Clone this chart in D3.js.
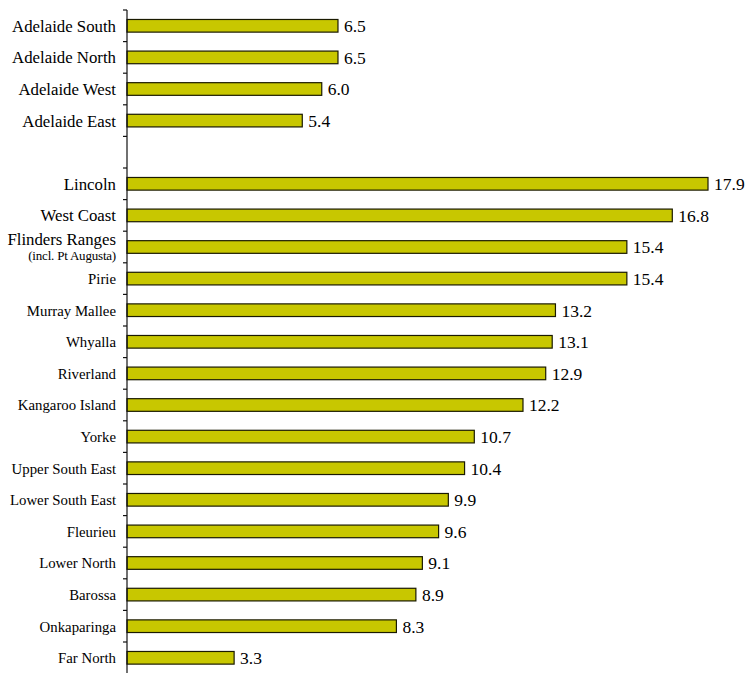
<!DOCTYPE html>
<html>
<head>
<meta charset="utf-8">
<script src="https://cdn.jsdelivr.net/npm/d3@7"></script>
<style>
  html, body { margin: 0; padding: 0; background: #fff; }
  svg { display: block; }
</style>
</head>
<body>
<svg id="chart" width="745" height="673"></svg>
<script>
// Metropolitan regions
const metroRegions = ["Adelaide South", "Adelaide North", "Adelaide West", "Adelaide East"];
const metroValues = [6.5, 6.5, 6.0, 5.4];

// Country regions
const countryRegions = ["Lincoln", "West Coast", "Flinders Ranges", "Pirie", "Murray Mallee",
  "Whyalla", "Riverland", "Kangaroo Island", "Yorke", "Upper South East", "Lower South East",
  "Fleurieu", "Lower North", "Barossa", "Onkaparinga", "Far North"];
const countryValues = [17.9, 16.8, 15.4, 15.4, 13.2, 13.1, 12.9, 12.2, 10.7, 10.4, 9.9,
  9.6, 9.1, 8.9, 8.3, 3.3];

// Extra second lines for some category labels
const subLabels = { "Flinders Ranges": "(incl. Pt Augusta)" };
// Labels drawn at the larger size
const largeLabels = ["Adelaide South", "Adelaide North", "Adelaide West", "Adelaide East",
  "Lincoln", "West Coast", "Flinders Ranges"];

const fontFamily = "'Liberation Serif', Tinos, 'Times New Roman', Times, 'DejaVu Serif', serif";

const spacer = "__gap__";
const rows = metroRegions.map((r, i) => ({ name: r, value: metroValues[i] }))
  .concat([{ name: spacer, value: null }])
  .concat(countryRegions.map((r, i) => ({ name: r, value: countryValues[i] })));

const svg = d3.select("#chart")
  .attr("font-family", fontFamily)
  .style("font-family", fontFamily);
const axisX = 127;
const plotTop = 10, plotBottom = 673.6;

const y = d3.scaleBand()
  .domain(rows.map(d => d.name))
  .range([plotTop, plotBottom])
  .paddingInner(0.6)
  .paddingOuter(0.3);

const x = d3.scaleLinear()
  .domain([0, 17.9])
  .range([axisX, 708]);

const bars = rows.filter(d => d.value !== null);

// Bars
svg.append("g")
  .selectAll("rect")
  .data(bars)
  .join("rect")
  .attr("x", x(0))
  .attr("y", d => y(d.name))
  .attr("width", d => x(d.value) - x(0))
  .attr("height", y.bandwidth())
  .attr("fill", "#c8c700")
  .attr("stroke", "#1a1a00")
  .attr("stroke-width", 1.2);

// Value labels
svg.append("g")
  .selectAll("text")
  .data(bars)
  .join("text")
  .attr("x", d => x(d.value) + 6)
  .attr("y", d => y(d.name) + y.bandwidth() / 2)
  .attr("dy", "0.36em")
  .attr("font-size", 17.5)
  .attr("fill", "#000")
  .text(d => d3.format(".1f")(d.value));

// Axis line with ticks on the category boundaries
const axis = svg.append("g");
axis.append("line")
  .attr("x1", axisX).attr("x2", axisX)
  .attr("y1", plotTop).attr("y2", plotBottom)
  .attr("stroke", "#111").attr("stroke-width", 1.2);
axis.selectAll("line.tick")
  .data(d3.range(rows.length + 1))
  .join("line")
  .attr("class", "tick")
  .attr("x1", axisX - 4).attr("x2", axisX)
  .attr("y1", i => plotTop + i * y.step())
  .attr("y2", i => plotTop + i * y.step())
  .attr("stroke", "#111").attr("stroke-width", 1.2);

// Category labels
const labels = svg.append("g")
  .attr("text-anchor", "end")
  .selectAll("text")
  .data(bars)
  .join("text")
  .attr("x", axisX - 11)
  .attr("y", d => y(d.name) + y.bandwidth() / 2)
  .attr("fill", "#000")
  .attr("font-size", d => largeLabels.includes(d.name) ? 16.8 : 14.8);

labels.filter(d => !subLabels[d.name])
  .attr("dy", "0.36em")
  .text(d => d.name);

labels.filter(d => subLabels[d.name])
  .each(function (d) {
    const t = d3.select(this);
    t.append("tspan")
      .attr("x", axisX - 11)
      .attr("dy", "-0.14em")
      .text(d.name);
    t.append("tspan")
      .attr("x", axisX - 11)
      .attr("dy", "1.2em")
      .attr("font-size", 13)
      .attr("letter-spacing", -0.2)
      .text(subLabels[d.name]);
  });
</script>
</body>
</html>
